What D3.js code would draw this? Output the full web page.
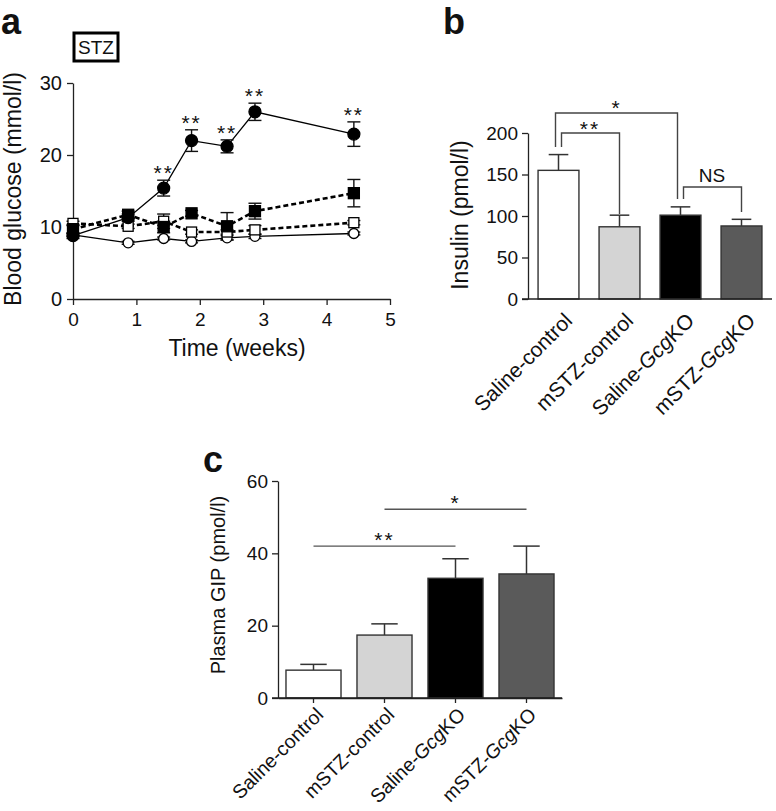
<!DOCTYPE html>
<html><head><meta charset="utf-8">
<script src="https://cdn.jsdelivr.net/npm/d3@7"></script>
<style>
body{margin:0;background:#fff;}
text{font-family:"Liberation Sans",Arial,Helvetica,sans-serif;fill:#111;}
</style></head>
<body><svg id="c" width="776" height="811"></svg>
<script>
// ---------- Data ----------
const weeks = [0, 0.87, 1.43, 1.87, 2.43, 2.87, 4.43];
const glucoseFilledCircle = [8.8, 11.3, 15.4, 22.0, 21.2, 26.0, 22.9];
const glucoseFilledCircleErr = [0.4, 0.5, 1.1, 1.5, 0.9, 1.2, 1.7];
const glucoseFilledSquare = [9.7, 11.7, 10.0, 11.9, 10.1, 12.2, 14.7];
const glucoseFilledSquareErr = [0.6, 0.5, 0.8, 0.4, 1.9, 1.1, 1.9];
const glucoseOpenSquare = [10.5, 10.1, 10.8, 9.3, 9.3, 9.6, 10.6];
const glucoseOpenSquareErr = [0.3, 0.3, 1.0, 0.3, 0.3, 0.6, 0.3];
const glucoseOpenCircle = [8.9, 7.8, 8.4, 8.0, 8.5, 8.7, 9.1];
const glucoseOpenCircleErr = [0.2, 0.2, 0.2, 0.2, 0.3, 0.3, 0.2];
const glucoseStars = ["", "", "**", "**", "**", "**", "**"];
const timeTicks = [0, 1, 2, 3, 4, 5];
const glucoseTicks = [0, 10, 20, 30];

const groups = ["Saline-control", "mSTZ-control", "Saline-GcgKO", "mSTZ-GcgKO"];
const groupColors = ["#ffffff", "#d4d4d4", "#000000", "#5a5a5a"];
const insulin = [155, 87, 101, 88];
const insulinErr = [19, 14, 10, 8];
const insulinTicks = [0, 50, 100, 150, 200];
const gip = [7.7, 17.4, 33.1, 34.3];
const gipErr = [1.6, 3.1, 5.4, 7.7];
const gipTicks = [0, 20, 40, 60];

const svg = d3.select("#c");
const FONT = "Liberation Sans, Arial, sans-serif";

function styleAxis(g, fs){
  g.selectAll("path.domain").attr("stroke","#222").attr("stroke-width",1.3);
  g.selectAll(".tick line").attr("stroke","#222").attr("stroke-width",1.3);
  g.selectAll(".tick text").attr("font-size",fs).attr("font-family",FONT).attr("fill","#111");
}
function stars(g, x, yc, s, fs){
  g.append("text").attr("x",x).attr("y",yc + 0.58*fs).attr("text-anchor","middle")
   .attr("font-size",fs).attr("letter-spacing",2).text(s);
}

// ---------- Panel a ----------
const xa = d3.scaleLinear().domain([0,5]).range([73,390]);
const ya = d3.scaleLinear().domain([0,30]).range([299,83]);
const ga = svg.append("g");
ga.append("text").attr("x",1).attr("y",34).attr("font-size",36).attr("font-weight","bold").text("a");
ga.append("rect").attr("x",74).attr("y",33).attr("width",44).attr("height",28)
  .attr("fill","#fff").attr("stroke","#000").attr("stroke-width",3);
ga.append("text").attr("x",96).attr("y",54).attr("text-anchor","middle").attr("font-size",19).text("STZ");

const axA = ga.append("g").attr("transform","translate(0,299)")
  .call(d3.axisBottom(xa).tickValues(timeTicks).tickFormat(d3.format("d")).tickSize(6).tickSizeOuter(0).tickPadding(8));
styleAxis(axA, 19);
const ayA = ga.append("g").attr("transform","translate(73,0)")
  .call(d3.axisLeft(ya).tickValues(glucoseTicks).tickFormat(d3.format("d")).tickSize(6).tickSizeOuter(0).tickPadding(5));
styleAxis(ayA, 20);
ga.append("text").attr("x",237).attr("y",356).attr("text-anchor","middle").attr("font-size",23).text("Time (weeks)");
ga.append("text").attr("transform","translate(21,189) rotate(-90)").attr("text-anchor","middle")
  .attr("font-size",23).text("Blood glucose (mmol/l)");

const seriesA = [
  {v:glucoseOpenCircle, e:glucoseOpenCircleErr, shape:"circle", fill:"#fff", dash:null, r:5},
  {v:glucoseOpenSquare, e:glucoseOpenSquareErr, shape:"square", fill:"#fff", dash:"5,3", r:5},
  {v:glucoseFilledSquare, e:glucoseFilledSquareErr, shape:"square", fill:"#000", dash:"5,3", r:5.5},
  {v:glucoseFilledCircle, e:glucoseFilledCircleErr, shape:"circle", fill:"#000", dash:null, r:6}
];
const line = d3.line().x((d,i)=>xa(weeks[i])).y(d=>ya(d));
seriesA.forEach(s=>{
  ga.append("path").datum(s.v).attr("d",line).attr("fill","none").attr("stroke","#000")
    .attr("stroke-width", s.dash ? 2.6 : 1.3).attr("stroke-dasharray", s.dash);
});
seriesA.forEach(s=>{
  const eg = ga.append("g").attr("stroke","#111").attr("stroke-width",1.4);
  s.v.forEach((v,i)=>{
    const x = xa(weeks[i]);
    eg.append("line").attr("x1",x).attr("x2",x).attr("y1",ya(v-s.e[i])).attr("y2",ya(v+s.e[i]));
    [v-s.e[i], v+s.e[i]].forEach(w=>eg.append("line").attr("x1",x-6.5).attr("x2",x+6.5).attr("y1",ya(w)).attr("y2",ya(w)));
  });
});
seriesA.forEach(s=>{
  s.v.forEach((v,i)=>{
    const x = xa(weeks[i]), y = ya(v);
    if(s.shape==="circle"){
      ga.append("circle").attr("cx",x).attr("cy",y).attr("r",s.r).attr("fill",s.fill).attr("stroke","#000").attr("stroke-width",1.3);
    } else {
      ga.append("rect").attr("x",x-s.r).attr("y",y-s.r).attr("width",2*s.r).attr("height",2*s.r)
        .attr("fill",s.fill).attr("stroke","#000").attr("stroke-width",1.3);
    }
  });
});
glucoseStars.forEach((s,i)=>{
  if(s) stars(ga, xa(weeks[i]), ya(glucoseFilledCircle[i]+glucoseFilledCircleErr[i]) - 12, s, 21);
});

// ---------- label helper for categories ----------
function catLabels(g, x, dx, y0, fs){
  groups.forEach((name,i)=>{
    const cx = x(name) + x.bandwidth()/2;
    const t = g.append("text").attr("transform",`translate(${cx+dx},${y0}) rotate(-45)`)
      .attr("text-anchor","end").attr("font-size",fs);
    const m = name.match(/^(.*-)(Gcg)(KO)$/);
    if(m){
      t.append("tspan").text(m[1]);
      t.append("tspan").attr("font-style","italic").text(m[2]);
      t.append("tspan").text(m[3]);
    } else t.text(name);
  });
}
function barsWithErr(g, x, y, vals, errs, capFrac){
  groups.forEach((name,i)=>{
    const bx = x(name), bw = x.bandwidth(), cx = bx + bw/2;
    g.append("line").attr("x1",cx).attr("x2",cx).attr("y1",y(vals[i])).attr("y2",y(vals[i]+errs[i]))
      .attr("stroke","#333").attr("stroke-width",1.5);
    g.append("line").attr("x1",cx-bw*capFrac/2).attr("x2",cx+bw*capFrac/2)
      .attr("y1",y(vals[i]+errs[i])).attr("y2",y(vals[i]+errs[i])).attr("stroke","#333").attr("stroke-width",1.5);
    g.append("rect").attr("x",bx).attr("y",y(vals[i])).attr("width",bw).attr("height",y(0)-y(vals[i]))
      .attr("fill",groupColors[i]).attr("stroke","#333").attr("stroke-width",1.4);
  });
}

// ---------- Panel b ----------
const xb = d3.scaleBand().domain(groups).range([528,772]).paddingInner(0.33).paddingOuter(0.165);
const yb = d3.scaleLinear().domain([0,200]).range([299,133]);
const gb = svg.append("g");
gb.append("text").attr("x",443).attr("y",34).attr("font-size",36).attr("font-weight","bold").text("b");
barsWithErr(gb, xb, yb, insulin, insulinErr, 0.48);
const ayB = gb.append("g").attr("transform","translate(528,0)")
  .call(d3.axisLeft(yb).tickValues(insulinTicks).tickSize(6).tickSizeOuter(0).tickPadding(4));
styleAxis(ayB, 19);
gb.append("line").attr("x1",522).attr("x2",772).attr("y1",299).attr("y2",299).attr("stroke","#222").attr("stroke-width",1.3);
gb.append("text").attr("transform","translate(468,215) rotate(-90)").attr("text-anchor","middle")
  .attr("font-size",23).text("Insulin (pmol/l)");
catLabels(gb, xb, 15, 322, 21);
// brackets
const bc = i => xb(groups[i]) + xb.bandwidth()/2;
function bracket(g, x1, x2, yTop, yL, yR){
  g.append("path").attr("d",`M${x1},${yL}V${yTop}H${x2}V${yR}`).attr("fill","none")
   .attr("stroke","#444").attr("stroke-width",1.4);
}
bracket(gb, bc(0)-3, bc(2)-3, 113, 147, 199);
stars(gb, (bc(0)+bc(2))/2 - 3, 103, "*", 21);
bracket(gb, bc(0)+3, bc(1), 133, 147, 214);
stars(gb, (bc(0)+bc(1))/2 + 1, 124, "**", 21);
bracket(gb, bc(2)+3, bc(3), 187, 199, 212);
gb.append("text").attr("x",(bc(2)+bc(3))/2+1).attr("y",182).attr("text-anchor","middle").attr("font-size",19).text("NS");

// ---------- Panel c ----------
const xc = d3.scaleBand().domain(groups).range([278,562]).paddingInner(0.225).paddingOuter(0.1125);
const yc = d3.scaleLinear().domain([0,60]).range([698,481]);
const gc = svg.append("g");
gc.append("text").attr("x",203).attr("y",472).attr("font-size",36).attr("font-weight","bold").text("c");
barsWithErr(gc, xc, yc, gip, gipErr, 0.48);
const ayC = gc.append("g").attr("transform","translate(278,0)")
  .call(d3.axisLeft(yc).tickValues(gipTicks).tickSize(6).tickSizeOuter(0).tickPadding(4));
styleAxis(ayC, 19);
const axC = gc.append("g").attr("transform","translate(0,698)")
  .call(d3.axisBottom(xc).tickSize(5).tickSizeOuter(0).tickFormat(""));
styleAxis(axC, 19);
gc.append("line").attr("x1",272).attr("x2",562).attr("y1",698).attr("y2",698).attr("stroke","#222").attr("stroke-width",1.3);
gc.append("text").attr("transform","translate(225,585) rotate(-90)").attr("text-anchor","middle")
  .attr("font-size",20).text("Plasma GIP (pmol/l)");
catLabels(gc, xc, 11, 716, 19.5);
const cc = i => xc(groups[i]) + xc.bandwidth()/2;
gc.append("line").attr("x1",cc(0)).attr("x2",cc(2)).attr("y1",yc(42)).attr("y2",yc(42)).attr("stroke","#555").attr("stroke-width",1.4);
stars(gc, cc(1), yc(42)-11, "**", 21);
gc.append("line").attr("x1",cc(1)).attr("x2",cc(3)).attr("y1",yc(52.2)).attr("y2",yc(52.2)).attr("stroke","#555").attr("stroke-width",1.4);
stars(gc, cc(2), yc(52.2)-11, "*", 21);
</script></body></html>
